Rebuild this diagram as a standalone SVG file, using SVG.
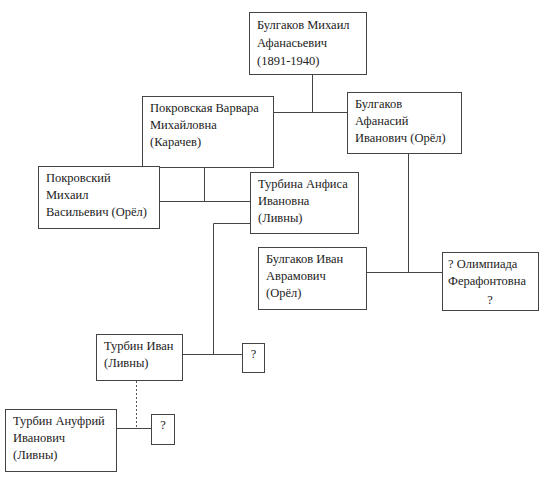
<svg xmlns="http://www.w3.org/2000/svg" width="540" height="494" viewBox="0 0 540 494">
<style>
.box{fill:#fff;stroke:#444;stroke-width:1}
text{font-family:"Liberation Serif","DejaVu Serif","Times New Roman",serif;font-size:12.5px;fill:#222}
.ln{fill:none;stroke:#444;stroke-width:1}
.dot{fill:none;stroke:#555;stroke-width:1;stroke-dasharray:2,2}
</style>
<rect width="540" height="494" fill="#fff"/>
<g id="connectors">
<path class="ln" d="M312.5,75 V112.5 M274,112.5 H347"/>
<path class="ln" d="M204.5,168 V201.5 M160,201.5 H250"/>
<path class="ln" d="M250,223.5 H213.5 V354.5 M183,354.5 H242"/>
<path class="ln" d="M408.5,154 V272.5 M367,272.5 H442"/>
<path class="ln" d="M117,428.5 H151"/>
<path class="dot" d="M136.5,381 V428"/>
</g>
<g font-family="Liberation Serif, serif">
<g id="n1"><rect class="box" x="249.5" y="12.5" width="117" height="62"/>
<text x="257" y="29">Булгаков Михаил</text><text x="257" y="47">Афанасьевич</text><text x="257" y="65">(1891-1940)</text></g>
<g id="n2"><rect class="box" x="142.5" y="96.5" width="131" height="71"/>
<text x="150" y="112">Покровская Варвара</text><text x="150" y="129">Михайловна</text><text x="150" y="146">(Карачев)</text></g>
<g id="n3"><rect class="box" x="347.5" y="92.5" width="114" height="61"/>
<text x="355" y="108">Булгаков</text><text x="355" y="125">Афанасий</text><text x="355" y="142">Иванович (Орёл)</text></g>
<g id="n4"><rect class="box" x="38.5" y="166.5" width="121" height="62"/>
<text x="46" y="182">Покровский</text><text x="46" y="199">Михаил</text><text x="46" y="216">Васильевич (Орёл)</text></g>
<g id="n5"><rect class="box" x="250.5" y="172.5" width="108" height="61"/>
<text x="258" y="188">Турбина Анфиса</text><text x="258" y="205">Ивановна</text><text x="258" y="222">(Ливны)</text></g>
<g id="n6"><rect class="box" x="258.5" y="247.5" width="108" height="62"/>
<text x="266" y="263">Булгаков Иван</text><text x="266" y="280">Аврамович</text><text x="266" y="297">(Орёл)</text></g>
<g id="n7"><rect class="box" x="442.5" y="252.5" width="96" height="58"/>
<text x="448" y="268">? Олимпиада</text><text x="448" y="285">Ферафонтовна</text><text x="490" y="304" text-anchor="middle">?</text></g>
<g id="n8"><rect class="box" x="96.5" y="334.5" width="86" height="46"/>
<text x="104" y="350">Турбин Иван</text><text x="104" y="367">(Ливны)</text></g>
<g id="n9"><rect class="box" x="242.5" y="343.5" width="22" height="29"/>
<text x="253.5" y="358" text-anchor="middle">?</text></g>
<g id="n10"><rect class="box" x="5.5" y="409.5" width="111" height="62"/>
<text x="13" y="425">Турбин Ануфрий</text><text x="13" y="442">Иванович</text><text x="13" y="459">(Ливны)</text></g>
<g id="n11"><rect class="box" x="151.5" y="414.5" width="23" height="30"/>
<text x="163" y="429" text-anchor="middle">?</text></g>
</g>
</svg>
